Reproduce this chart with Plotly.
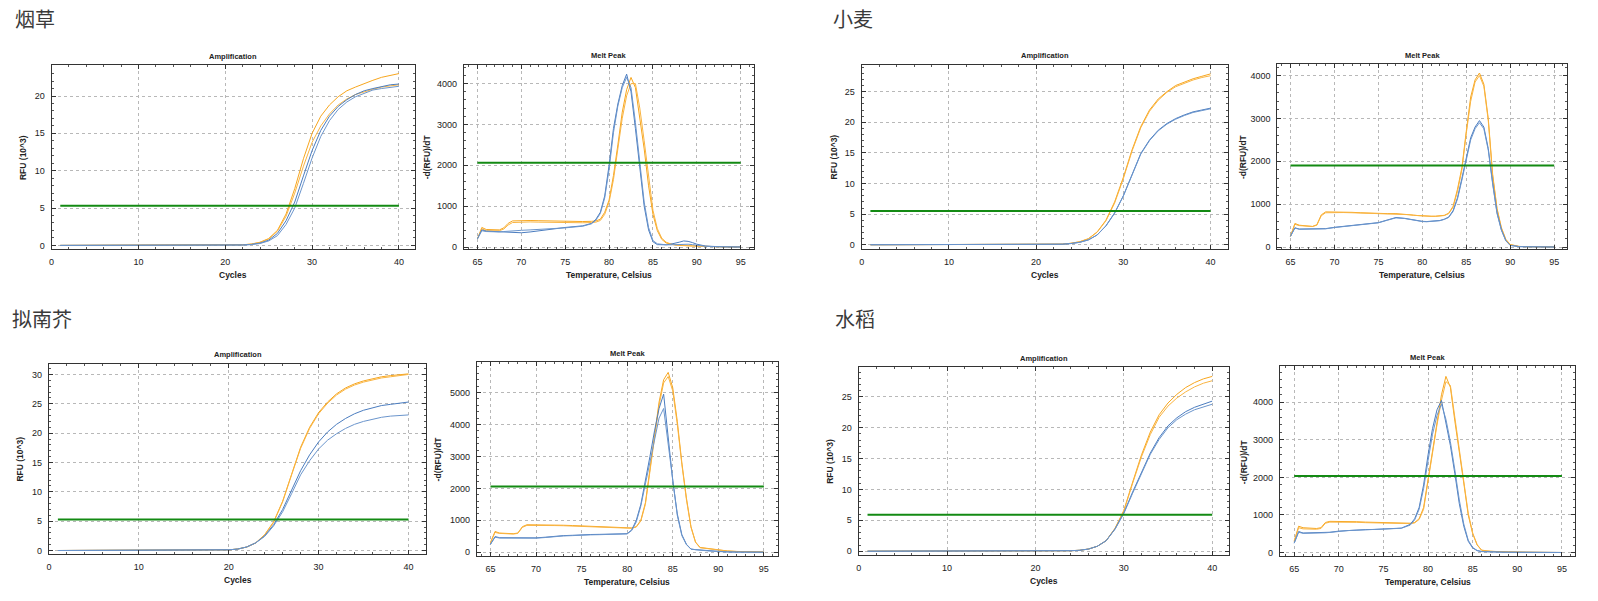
import plotly.graph_objects as go

# ---------------- data ----------------
CYCLES = list(range(1, 41))
TEMPS = [65, 65.5, 66, 67, 67.5, 68, 68.5, 69,
         70, 71, 72, 73, 74, 75, 76, 77, 78,
         78.5,
         79, 79.5, 80, 80.5, 81, 81.5, 82, 82.5, 83, 83.5, 84, 84.5, 85, 85.5, 86, 86.5, 87, 87.5, 88, 88.5, 89, 89.5, 90,
         91, 92, 93, 94, 95]

TITLES = ["烟草", "小麦", "拟南芥", "水稻"]
AMP_THRESH = [5.3, 5.5, 5.3, 5.9]
MELT_THRESH = [2060, 1900, 2060, 2040]

# --- 烟草 ---
TOB_AMP_OR1 = [0, 0, 0, 0, 0, 0, 0, 0, 0, 0,
               0, 0, 0, 0, 0, 0, 0, 0, 0.01, 0.02,
               0.04, 0.08, 0.18, 0.42, 0.92, 2.0, 4.2, 7.6, 11.6, 15.0,
               17.3, 18.8, 19.9, 20.7, 21.2, 21.7, 22.1, 22.5, 22.8, 23.0]
TOB_AMP_OR2 = [0, 0, 0, 0, 0, 0, 0, 0, 0, 0,
               0, 0, 0, 0, 0, 0, 0, 0, 0.01, 0.02,
               0.04, 0.08, 0.17, 0.4, 0.85, 1.9, 3.9, 7.0, 10.6, 13.8,
               16.0, 17.6, 18.8, 19.6, 20.2, 20.6, 20.9, 21.2, 21.4, 21.5]
TOB_AMP_BL1 = [0, 0, 0, 0, 0, 0, 0, 0, 0, 0,
               0, 0, 0, 0, 0, 0, 0, 0, 0.01, 0.02,
               0.03, 0.06, 0.13, 0.3, 0.7, 1.6, 3.3, 5.8, 9.3, 12.7,
               15.4, 17.3, 18.6, 19.5, 20.2, 20.7, 21.0, 21.3, 21.5, 21.6]
TOB_AMP_BL2 = [0, 0, 0, 0, 0, 0, 0, 0, 0, 0,
               0, 0, 0, 0, 0, 0, 0, 0, 0.01, 0.02,
               0.03, 0.05, 0.11, 0.25, 0.6, 1.3, 2.8, 5.0, 8.3, 11.7,
               14.6, 16.7, 18.2, 19.2, 19.9, 20.4, 20.8, 21.0, 21.2, 21.3]
TOB_MELT_OR1 = [200, 480, 430, 420, 420, 470, 580, 640,
                650, 650, 645, 640, 630, 625, 620, 625, 630,
                640,
                680, 850, 1150, 1750, 2500, 3300, 3850, 4150, 3900, 3200, 2400, 1500, 800, 400, 190, 100, 70, 50, 40, 35, 30, 25, 20,
                12, 8, 5, 3, 2]
TOB_MELT_OR2 = [200, 450, 400, 400, 400, 440, 540, 600,
                610, 615, 610, 605, 600, 595, 590, 595, 600,
                610,
                650, 800, 1100, 1650, 2400, 3150, 3700, 4000, 4000, 3400, 2600, 1700, 900, 450, 220, 120, 80, 60, 45, 38, 32, 27, 22,
                14, 9, 6, 4, 2]
TOB_MELT_BL1 = [200, 420, 390, 380, 380, 375, 370, 360,
                350, 370, 400, 430, 460, 480, 500, 520, 580,
                680,
                850, 1250, 2000, 2900, 3500, 3950, 4230, 3800, 2900, 1900, 1000, 420, 130, 60, 50, 55, 70, 90, 120, 150, 140, 110, 70,
                25, 10, 5, 3, 2]
TOB_MELT_BL2 = [200, 400, 380, 370, 370, 380, 390, 400,
                410, 420, 430, 440, 460, 470, 490, 510, 570,
                660,
                820, 1200, 1900, 2800, 3450, 3900, 4150, 3900, 3050, 2000, 1100, 480, 160, 80, 60, 55, 55, 60, 70, 75, 70, 60, 45,
                20, 10, 5, 3, 2]

# --- 小麦 ---
WHE_AMP_OR1 = [0, 0, 0, 0, 0, 0, 0, 0, 0, 0,
               0, 0, 0, 0, 0, 0, 0, 0, 0, 0.01,
               0.02, 0.05, 0.1, 0.25, 0.5, 1.0, 2.1, 4.0, 7.0, 11.0,
               15.5, 19.3, 22.0, 23.8, 25.0, 26.0, 26.6, 27.1, 27.5, 27.9]
WHE_AMP_OR2 = [0, 0, 0, 0, 0, 0, 0, 0, 0, 0,
               0, 0, 0, 0, 0, 0, 0, 0, 0, 0.01,
               0.02, 0.05, 0.1, 0.24, 0.48, 0.97, 2.05, 3.9, 6.8, 10.8,
               15.3, 19.1, 21.8, 23.6, 24.9, 25.8, 26.4, 26.9, 27.3, 27.6]
WHE_AMP_BL1 = [0, 0, 0, 0, 0, 0, 0, 0, 0, 0,
               0, 0, 0, 0, 0, 0, 0, 0, 0, 0.01,
               0.02, 0.04, 0.09, 0.2, 0.4, 0.8, 1.6, 3.1, 5.2, 8.0,
               11.6, 14.9, 17.1, 18.7, 19.8, 20.6, 21.2, 21.7, 22.0, 22.3]
WHE_AMP_BL2 = [0, 0, 0, 0, 0, 0, 0, 0, 0, 0,
               0, 0, 0, 0, 0, 0, 0, 0, 0, 0.01,
               0.02, 0.04, 0.09, 0.2, 0.4, 0.8, 1.6, 3.05, 5.15, 7.95,
               11.5, 14.8, 17.0, 18.6, 19.7, 20.5, 21.1, 21.6, 21.9, 22.2]
WHE_MELT_OR1 = [250, 550, 510, 490, 480, 520, 750, 820,
                820, 815, 810, 800, 790, 785, 780, 780, 770,
                760,
                745, 735, 725, 720, 720, 720, 725, 740, 790, 950, 1350, 1850, 2700, 3500, 3900, 4060, 3800, 3000, 1700, 900, 450, 180, 60,
                15, 8, 5, 3, 2]
WHE_MELT_OR2 = [250, 530, 500, 490, 480, 510, 730, 800,
                810, 805, 800, 795, 785, 780, 775, 775, 765,
                755,
                740, 730, 720, 715, 715, 715, 720, 735, 780, 930, 1300, 1800, 2650, 3400, 3850, 4000, 3750, 2950, 1650, 870, 430, 170, 55,
                14, 8, 5, 3, 2]
WHE_MELT_BL1 = [250, 450, 420, 420, 420, 420, 425, 430,
                460, 480, 500, 520, 540, 570, 630, 690, 670,
                650,
                630, 610, 600, 595, 600, 610, 620, 650, 700, 850, 1150, 1600, 2050, 2550, 2800, 2950, 2800, 2300, 1500, 800, 400, 150, 40,
                10, 6, 4, 2, 1]
WHE_MELT_BL2 = [250, 440, 415, 415, 415, 415, 420, 425,
                455, 475, 495, 515, 535, 565, 625, 680, 665,
                645,
                625, 605, 595, 590, 595, 605, 615, 645, 690, 830, 1120, 1560, 2000, 2500, 2760, 2900, 2760, 2260, 1470, 780, 390, 145, 38,
                10, 6, 4, 2, 1]

# --- 拟南芥 ---
ARA_AMP_OR1 = [0, 0, 0, 0, 0, 0, 0, 0, 0, 0,
               0, 0, 0, 0, 0, 0.01, 0.02, 0.04, 0.07, 0.12,
               0.25, 0.6, 1.3, 2.7, 4.9, 8.4, 13.0, 17.6, 21.0, 23.5,
               25.3, 26.7, 27.7, 28.4, 28.9, 29.3, 29.6, 29.8, 30.0, 30.1]
ARA_AMP_OR2 = [0, 0, 0, 0, 0, 0, 0, 0, 0, 0,
               0, 0, 0, 0, 0, 0.01, 0.02, 0.04, 0.07, 0.12,
               0.25, 0.58, 1.27, 2.65, 4.8, 8.3, 12.9, 17.4, 20.8, 23.3,
               25.1, 26.5, 27.5, 28.2, 28.7, 29.1, 29.4, 29.6, 29.8, 30.0]
ARA_AMP_BL1 = [0, 0, 0, 0, 0, 0, 0, 0, 0, 0,
               0, 0, 0, 0, 0, 0.01, 0.02, 0.04, 0.07, 0.12,
               0.25, 0.6, 1.3, 2.5, 4.4, 7.0, 10.3, 13.6, 16.3, 18.5,
               20.2, 21.5, 22.5, 23.3, 23.9, 24.3, 24.7, 24.9, 25.1, 25.3]
ARA_AMP_BL2 = [0, 0, 0, 0, 0, 0, 0, 0, 0, 0,
               0, 0, 0, 0, 0, 0.01, 0.02, 0.04, 0.07, 0.12,
               0.25, 0.6, 1.3, 2.4, 4.2, 6.6, 9.7, 12.9, 15.3, 17.3,
               18.8, 19.9, 20.8, 21.5, 22.0, 22.4, 22.7, 22.9, 23.0, 23.1]
ARA_MELT_OR1 = [300, 650, 600, 590, 580, 600, 800, 860,
                860, 855, 850, 845, 835, 825, 815, 805, 795,
                790,
                780, 775, 765, 760, 800, 1000, 1550, 2650, 3750, 4700, 5400, 5630, 5150, 4100, 2800, 1700, 800, 320, 150, 130, 120, 90, 70,
                40, 25, 15, 10, 8]
ARA_MELT_OR2 = [300, 620, 590, 580, 570, 590, 780, 840,
                845, 840, 835, 830, 820, 810, 800, 790, 780,
                775,
                765, 760, 750, 750, 790, 980, 1500, 2550, 3650, 4600, 5300, 5500, 5050, 4000, 2750, 1650, 780, 310, 140, 120, 110, 85, 65,
                38, 24, 14, 9, 7]
ARA_MELT_BL1 = [250, 490, 455, 450, 450, 450, 450, 450,
                450, 470, 500, 520, 530, 550, 555, 560, 565,
                570,
                575, 578, 580, 700, 1000, 1500, 2200, 3000, 3800, 4500, 4950, 3600, 2250, 1200, 550, 250, 100, 80, 70, 55, 40, 30, 20,
                10, 5, 3, 2, 1]
ARA_MELT_BL2 = [250, 470, 445, 440, 440, 440, 440, 440,
                440, 460, 490, 510, 520, 540, 545, 550, 555,
                560,
                565, 570, 575, 680, 950, 1450, 2150, 2900, 3600, 4200, 4500, 3400, 2150, 1150, 520, 240, 95, 75, 65, 50, 38, 28, 18,
                9, 5, 3, 2, 1]

# --- 水稻 ---
RIC_AMP_OR1 = [0, 0, 0, 0, 0, 0, 0, 0, 0, 0,
               0, 0, 0, 0, 0, 0, 0, 0, 0, 0,
               0.01, 0.02, 0.04, 0.08, 0.15, 0.35, 0.8, 1.7, 3.7, 6.6,
               11.2, 15.6, 19.3, 22.1, 24.0, 25.4, 26.5, 27.3, 27.9, 28.3]
RIC_AMP_OR2 = [0, 0, 0, 0, 0, 0, 0, 0, 0, 0,
               0, 0, 0, 0, 0, 0, 0, 0, 0, 0,
               0.01, 0.02, 0.04, 0.08, 0.15, 0.35, 0.8, 1.7, 3.65, 6.5,
               11.0, 15.3, 18.9, 21.7, 23.5, 24.8, 25.8, 26.6, 27.2, 27.6]
RIC_AMP_BL1 = [0, 0, 0, 0, 0, 0, 0, 0, 0, 0,
               0, 0, 0, 0, 0, 0, 0, 0, 0, 0,
               0.01, 0.02, 0.04, 0.08, 0.15, 0.35, 0.8, 1.7, 3.6, 6.2,
               9.6, 12.9, 15.9, 18.4, 20.3, 21.6, 22.6, 23.3, 23.8, 24.3]
RIC_AMP_BL2 = [0, 0, 0, 0, 0, 0, 0, 0, 0, 0,
               0, 0, 0, 0, 0, 0, 0, 0, 0, 0,
               0.01, 0.02, 0.04, 0.08, 0.15, 0.35, 0.8, 1.7, 3.55, 6.1,
               9.4, 12.7, 15.7, 18.1, 20.0, 21.3, 22.2, 22.9, 23.4, 23.8]
RIC_MELT_OR1 = [300, 700, 660, 650, 640, 660, 800, 830,
                830, 825, 820, 810, 800, 795, 790, 785, 780,
                800,
                900, 1200, 1950, 2750, 3500, 4200, 4690, 4400, 3500, 2600, 1850, 1000, 500, 200, 60, 40, 30, 25, 20, 18, 15, 12, 10,
                6, 4, 3, 2, 1]
RIC_MELT_OR2 = [300, 660, 630, 620, 620, 640, 780, 810,
                815, 810, 805, 795, 790, 785, 780, 775, 770,
                790,
                880, 1150, 1850, 2650, 3400, 4050, 4550, 4450, 3600, 2700, 1900, 1050, 520, 210, 65, 42, 32, 26, 21, 18, 15, 12, 10,
                6, 4, 3, 2, 1]
RIC_MELT_BL1 = [250, 560, 520, 520, 520, 520, 530, 540,
                570, 590, 600, 610, 615, 620, 630, 650, 750,
                900,
                1200, 1800, 2600, 3300, 3800, 4050, 3450, 2850, 2100, 1300, 700, 300, 120, 50, 25, 18, 15, 12, 10, 9, 8, 7, 6,
                4, 3, 2, 1, 1]
RIC_MELT_BL2 = [250, 540, 510, 510, 510, 515, 525, 535,
                565, 585, 595, 605, 610, 615, 625, 645, 730,
                870,
                1150, 1700, 2450, 3150, 3650, 3950, 3550, 2950, 2200, 1400, 760, 330, 135, 55, 28, 20, 16, 13, 11, 9, 8, 7, 6,
                4, 3, 2, 1, 1]

AMP_SERIES = [
    [TOB_AMP_OR1, TOB_AMP_OR2, TOB_AMP_BL1, TOB_AMP_BL2],
    [WHE_AMP_OR1, WHE_AMP_OR2, WHE_AMP_BL1, WHE_AMP_BL2],
    [ARA_AMP_OR1, ARA_AMP_OR2, ARA_AMP_BL1, ARA_AMP_BL2],
    [RIC_AMP_OR1, RIC_AMP_OR2, RIC_AMP_BL1, RIC_AMP_BL2],
]
MELT_SERIES = [
    [TOB_MELT_OR1, TOB_MELT_OR2, TOB_MELT_BL1, TOB_MELT_BL2],
    [WHE_MELT_OR1, WHE_MELT_OR2, WHE_MELT_BL1, WHE_MELT_BL2],
    [ARA_MELT_OR1, ARA_MELT_OR2, ARA_MELT_BL1, ARA_MELT_BL2],
    [RIC_MELT_OR1, RIC_MELT_OR2, RIC_MELT_BL1, RIC_MELT_BL2],
]
for grp in AMP_SERIES:
    for s in grp:
        assert len(s) == len(CYCLES), len(s)
for grp in MELT_SERIES:
    for s in grp:
        assert len(s) == len(TEMPS), len(s)

# ---------------- layout ----------------
W, H = 1598, 601
ORANGE = "#F7A61E"
ORANGE2 = "#F9B442"
BLUE = "#4A7CBF"
BLUE2 = "#6B95CC"
GREEN = "#138A13"
SERIES_COLORS = [ORANGE, ORANGE2, BLUE, BLUE2]
FONT = "Liberation Sans, Arial, sans-serif"

# plot frames in pixels: (left, top, right, bottom), x-range, y-range
AMP_BOX = [(48.7, 65.7, 412.7, 250.0), (860.3, 65.0, 1227.3, 250.0),
           (46.0, 365.7, 424.0, 556.7), (857.3, 369.0, 1228.3, 557.7)]
AMP_XR = [[0, 41.84], [0, 42.0], [0, 41.97], [0, 41.9]]
AMP_YR = [[-0.45, 24.1], [-0.65, 29.4], [-0.58, 31.8], [-0.6, 29.8]]
MELT_BOX = [(461.7, 65.0, 752.3, 250.7), (1276.7, 64.3, 1567.3, 250.7),
            (474.7, 364.3, 776.0, 558.7), (1279.3, 368.3, 1575.3, 558.7)]
MELT_XR = [[63.45, 96.5], [63.5, 96.5], [63.5, 96.5], [63.4, 96.5]]
MELT_YR = [[-58, 4462], [-56, 4271], [-115, 5940], [-90, 4954]]
AMP_YTITLE_X = [20, 832.3, 16.7, 828.3]
MELT_YTITLE_X = [425, 1241.7, 436, 1243.3]
TITLE_POS = [(10, 19), (830, 19), (7, 320), (832, 320)]


def fx(p):
    return p / W


def fy(p):
    return 1 - p / H


fig = go.Figure()
layout = dict(width=W, height=H, autosize=False,
              margin=dict(l=0, r=0, t=0, b=0, pad=0),
              paper_bgcolor="white", plot_bgcolor="white",
              showlegend=False, hovermode=False,
              font=dict(family=FONT, color="#222"))
annotations = []


def axis_cfg(domain, rng, dtick, minor_dtick, anchor):
    return dict(domain=domain, range=rng, anchor=anchor, dtick=dtick, tick0=0,
                showline=True, linecolor="#333", linewidth=1, mirror="allticks",
                ticks="inside", ticklen=4, tickcolor="#333", tickwidth=1,
                minor=dict(ticks="inside", ticklen=2, tickcolor="#555", dtick=minor_dtick,
                           showgrid=False),
                showgrid=True, gridcolor="#b8b8b8", griddash="dot", gridwidth=1,
                zeroline=False, ticklabelstandoff=4,
                tickfont=dict(size=9, color="#222", family=FONT),
                fixedrange=True)


def add_panel(idx, box, xr, yr, xs, series, thr, thr_x, xdt, xmin, ydt, ymin,
              title, xtitle, ytitle, ytitle_x):
    L, T, R, B = box
    xa = "x" if idx == 1 else f"x{idx}"
    ya = "y" if idx == 1 else f"y{idx}"
    layout["xaxis" if idx == 1 else f"xaxis{idx}"] = axis_cfg([fx(L), fx(R)], xr, xdt, xmin, ya)
    layout["yaxis" if idx == 1 else f"yaxis{idx}"] = axis_cfg([fy(B), fy(T)], yr, ydt, ymin, xa)
    for s, c in zip(series, SERIES_COLORS):
        fig.add_trace(go.Scatter(x=xs, y=s, mode="lines", xaxis=xa, yaxis=ya,
                                 line=dict(color=c, width=1)))
    fig.add_trace(go.Scatter(x=thr_x, y=[thr, thr], mode="lines", xaxis=xa, yaxis=ya,
                             line=dict(color=GREEN, width=2)))
    cx = (L + R) / 2
    annotations.append(dict(text=f"<b>{title}</b>", x=fx(cx), y=fy(T - 9), xref="paper", yref="paper",
                            showarrow=False, xanchor="center", yanchor="middle",
                            font=dict(size=7.5, family=FONT, color="#222")))
    annotations.append(dict(text=f"<b>{xtitle}</b>", x=fx(cx), y=fy(B + 26), xref="paper", yref="paper",
                            showarrow=False, xanchor="center", yanchor="middle",
                            font=dict(size=8.5, family=FONT, color="#222")))
    annotations.append(dict(text=f"<b>{ytitle}</b>", x=fx(ytitle_x), y=fy((T + B) / 2), xref="paper",
                            yref="paper", showarrow=False, xanchor="center", yanchor="middle",
                            textangle=-90, font=dict(size=8.5, family=FONT, color="#222")))


idx = 1
for g in range(4):
    add_panel(idx, AMP_BOX[g], AMP_XR[g], AMP_YR[g], CYCLES, AMP_SERIES[g],
              AMP_THRESH[g], [CYCLES[0], CYCLES[-1]], 10, 2, 5, 1,
              "Amplification", "Cycles", "RFU (10^3)", AMP_YTITLE_X[g])
    idx += 1
    add_panel(idx, MELT_BOX[g], MELT_XR[g], MELT_YR[g], TEMPS, MELT_SERIES[g],
              MELT_THRESH[g], [TEMPS[0], TEMPS[-1]], 5, 1, 1000, 200,
              "Melt Peak", "Temperature, Celsius", "-d(RFU)/dT", MELT_YTITLE_X[g])
    idx += 1
    tx, ty = TITLE_POS[g]
    annotations.append(dict(text=TITLES[g], x=fx(tx), y=fy(ty), xref="paper", yref="paper",
                            showarrow=False, xanchor="left", yanchor="middle",
                            font=dict(size=20, family="Noto Sans CJK SC", color="#3a3a3a")))

layout["annotations"] = annotations
fig.update_layout(**layout)
fig.write_html("out.html")
